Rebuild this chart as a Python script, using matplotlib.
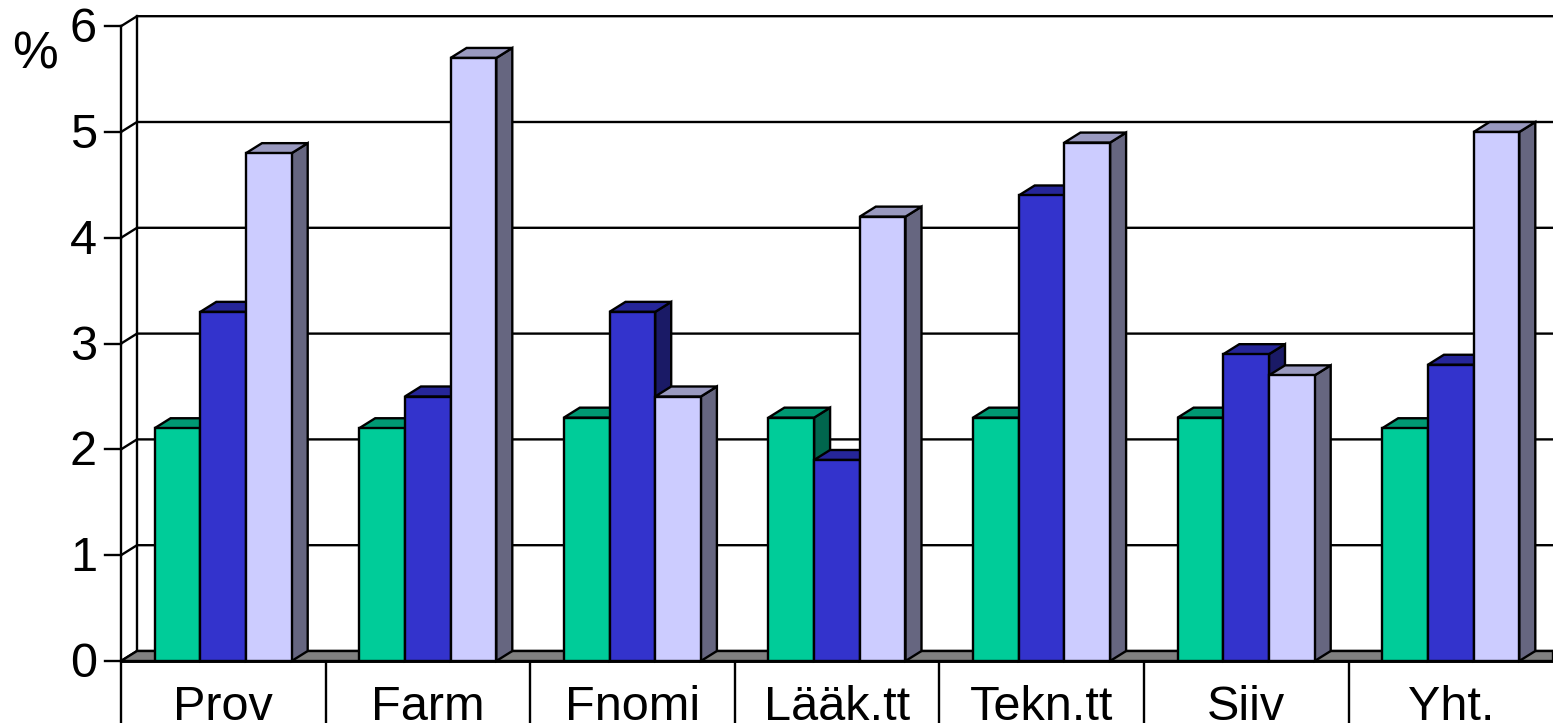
import matplotlib
matplotlib.use("Agg")
import matplotlib.pyplot as plt
from matplotlib.colors import to_rgb
from matplotlib.patches import Polygon

categories = ["Prov", "Farm", "Fnomi", "Lääk.tt", "Tekn.tt", "Siiv", "Yht."]
series_a = [2.2, 2.2, 2.3, 2.3, 2.3, 2.3, 2.2]
series_b = [3.3, 2.5, 3.3, 1.9, 4.4, 2.9, 2.8]
series_c = [4.8, 5.7, 2.5, 4.2, 4.9, 2.7, 5.0]
y_ticks = [0, 1, 2, 3, 4, 5, 6]

colors = ["#00CC99", "#3333CC", "#CCCCFF"]

W, H = 1553, 723
CAT_PX = 204.6   # width of one category
UNIT_PX = 105.8  # height of one percent
ZERO_PX = (121, 661)

# depth of the fake 3d effect, in data units
DX = 16 / CAT_PX
DY = 10 / UNIT_PX
BAR_W = 45.7 / CAT_PX
BAR_START = 33.6 / CAT_PX
LW = 1.7
FONT = 35


def shade(color, factor):
    return tuple(c * factor for c in to_rgb(color))


def draw_bar(ax, x, value, color):
    side = [(x + BAR_W, 0), (x + BAR_W + DX, DY), (x + BAR_W + DX, value + DY), (x + BAR_W, value)]
    top = [(x, value), (x + DX, value + DY), (x + BAR_W + DX, value + DY), (x + BAR_W, value)]
    ax.add_patch(Polygon(side, fc=shade(color, 0.5), ec="black", lw=LW, zorder=5))
    ax.add_patch(Polygon(top, fc=shade(color, 0.75), ec="black", lw=LW, zorder=5))
    ax.bar(x, value, BAR_W, align="edge", color=color, edgecolor="black", linewidth=LW, zorder=5)


plt.rcParams["font.family"] = ["Liberation Sans", "DejaVu Sans"]

fig = plt.figure(figsize=(W / 100, H / 100), dpi=100)
ax = fig.add_axes([0, 0, 1, 1])
ax.set_xlim(-ZERO_PX[0] / CAT_PX, (W - ZERO_PX[0]) / CAT_PX)
ax.set_ylim(-(H - ZERO_PX[1]) / UNIT_PX, ZERO_PX[1] / UNIT_PX)
ax.axis("off")

n = len(categories)
right = ax.get_xlim()[1]

# floor
ax.add_patch(Polygon([(0, 0), (DX, DY), (right, DY), (right, 0)], fc="#808080", ec="black", lw=LW, zorder=2))

# back wall gridlines and left wall
for t in y_ticks:
    ax.plot([0, DX, right], [t, t + DY, t + DY], color="black", lw=LW, zorder=1)
    ax.plot([-16 / CAT_PX, 0], [t, t], color="black", lw=LW, zorder=1)
    ax.text(-24 / CAT_PX, t - 0.151, str(t), ha="right", va="baseline", fontsize=FONT)
ax.plot([0, 0], [0, 6], color="black", lw=LW, zorder=1)
ax.plot([DX, DX], [DY, 6 + DY], color="black", lw=LW, zorder=1)
ax.text(-109 / CAT_PX, 5.6, "%", ha="left", va="baseline", fontsize=FONT + 2)

# bars
for i in range(n):
    for j, values in enumerate([series_a, series_b, series_c]):
        draw_bar(ax, i + BAR_START + j * BAR_W, values[i], colors[j])

# category table under the chart
ax.plot([0, right], [0, 0], color="black", lw=LW + 0.4, zorder=6)
bottom = ax.get_ylim()[0]
for i in range(n):
    ax.plot([i, i], [0, bottom], color="black", lw=LW, zorder=1)
    ax.text(i + 0.5, -0.558, categories[i], ha="center", va="baseline", fontsize=FONT)

fig.savefig("out.png", dpi=100)
